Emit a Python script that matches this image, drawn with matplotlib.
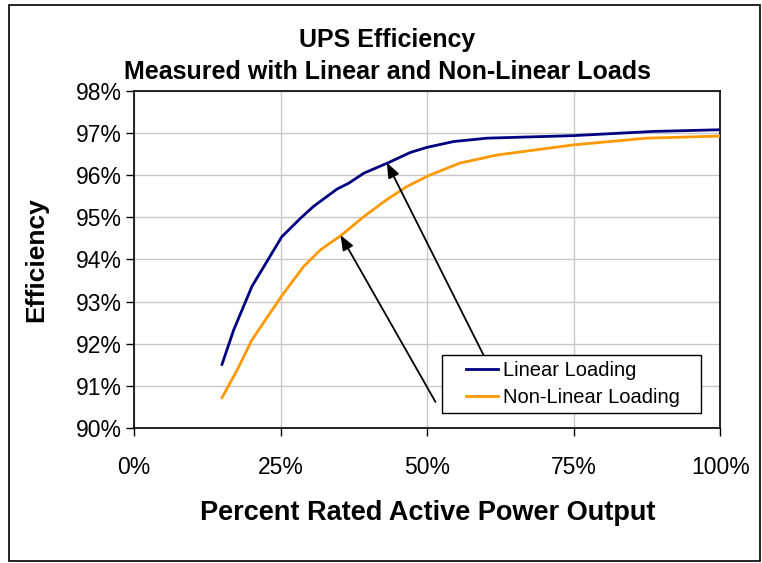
import matplotlib
matplotlib.use("Agg")
import matplotlib.pyplot as plt
from matplotlib.patches import Rectangle
from matplotlib.ticker import FuncFormatter, MultipleLocator

plt.rcParams['font.family'] = ['Liberation Sans', 'DejaVu Sans']

title = "UPS Efficiency\nMeasured with Linear and Non-Linear Loads"
xlabel = "Percent Rated Active Power Output"
ylabel = "Efficiency"

linear_x = [15.0, 17.0, 20.1, 25.2, 28.4, 30.6, 34.6, 36.6, 39.2, 43.4, 47.1, 49.9, 54.5, 60.2, 74.9, 88.6, 100.0]
linear_y = [91.51, 92.33, 93.36, 94.54, 94.98, 95.26, 95.67, 95.81, 96.05, 96.30, 96.54, 96.66, 96.80, 96.88, 96.94, 97.04, 97.08]

nonlin_x = [15.0, 17.6, 20.1, 25.2, 28.9, 31.8, 35.2, 39.2, 43.1, 46.5, 50.2, 55.6, 61.9, 74.9, 87.4, 100.0]
nonlin_y = [90.72, 91.38, 92.09, 93.14, 93.83, 94.23, 94.56, 95.02, 95.42, 95.73, 95.99, 96.29, 96.48, 96.72, 96.88, 96.93]

series_names = ["Linear Loading", "Non-Linear Loading"]
series_colors = ["#000080", "#FF9900"]

# arrows: (tail x, tail y, head x, head y) in data units
arrows = [(51.4, 90.62, 35.2, 94.58), (59.6, 91.73, 43.1, 96.30)]

fig = plt.figure(figsize=(7.62, 5.63), dpi=100)
ax = fig.add_axes([0.1759, 0.2398, 0.7696, 0.5986])

ax.plot(linear_x, linear_y, color=series_colors[0], lw=2, label=series_names[0], zorder=3)
ax.plot(nonlin_x, nonlin_y, color=series_colors[1], lw=2, label=series_names[1], zorder=3)

for tx, ty, hx, hy in arrows:
    ax.annotate("", xy=(hx, hy), xytext=(tx, ty),
                arrowprops=dict(arrowstyle="-|>,head_length=0.9,head_width=0.35",
                                color="black", lw=1.3, shrinkA=0, shrinkB=0),
                zorder=4)

ax.set_xlim(0, 100)
ax.set_ylim(90, 98)
ax.xaxis.set_major_locator(MultipleLocator(25))
ax.yaxis.set_major_locator(MultipleLocator(1))
ax.xaxis.set_major_formatter(FuncFormatter(lambda v, p: f"{v:.0f}%"))
ax.yaxis.set_major_formatter(FuncFormatter(lambda v, p: f"{v:.0f}%"))
ax.grid(True, color="#c8c8c8", lw=1)
ax.set_axisbelow(True)
for s in ax.spines.values():
    s.set_linewidth(1.2)
    s.set_color("black")
ax.tick_params(axis='both', direction='out', length=6, width=1, labelsize=16.5, colors='black')
ax.tick_params(axis='x', pad=14)
ax.tick_params(axis='y', pad=3)

ax.set_xlabel(xlabel, fontsize=19.5, fontweight='bold', labelpad=15)
ax.set_ylabel(ylabel, fontsize=19, fontweight='bold', labelpad=20)
fig.text(0.508, 0.901, title, ha='center', va='center', fontsize=18,
         fontweight='bold', linespacing=1.4)

# legend frame and entries
ax.add_patch(Rectangle((0.5245, 0.0454), 0.4431, 0.1712, transform=ax.transAxes,
                       facecolor='white', edgecolor='black', lw=1, zorder=5))
leg = ax.legend(loc='center', bbox_to_anchor=(0.748, 0.131), fontsize=14.5,
                frameon=False, handlelength=1.6, borderpad=0, labelspacing=0.42,
                handletextpad=0.25)
leg.set_zorder(6)

fig.patches.append(Rectangle((9 / 762, 1 - 561 / 563), 751 / 762, 556 / 563,
                             transform=fig.transFigure, fill=False,
                             edgecolor='black', lw=1.2))

fig.savefig("out.png", dpi=100)
